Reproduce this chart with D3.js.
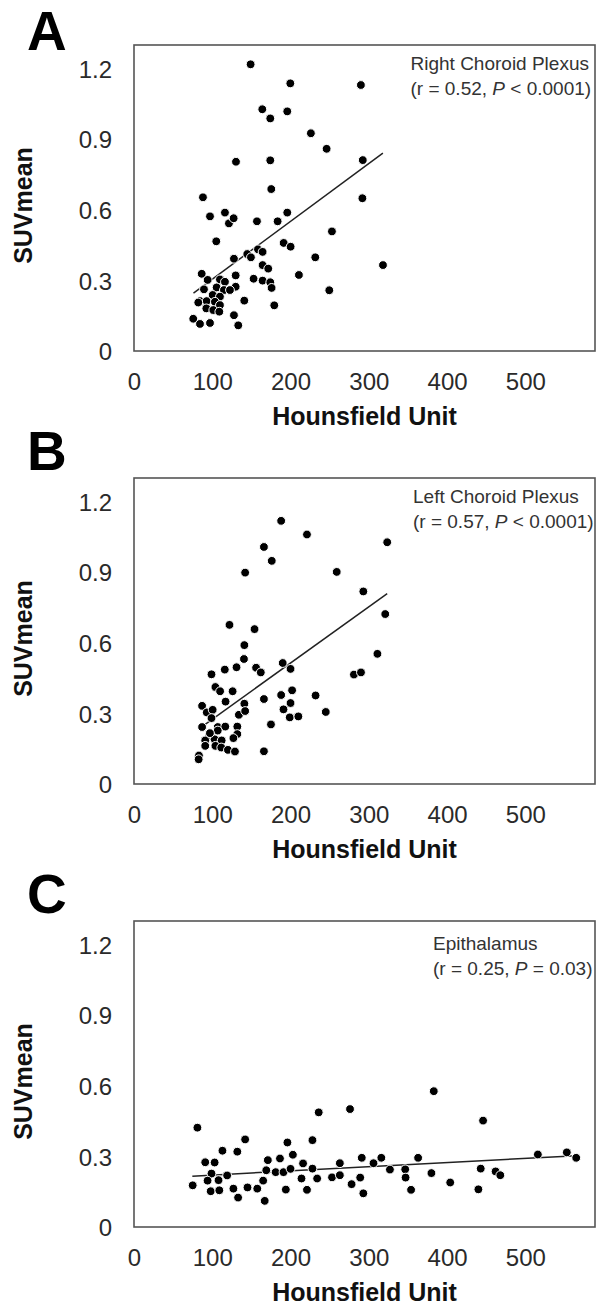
<!DOCTYPE html>
<html>
<head>
<meta charset="utf-8">
<script src="https://cdn.jsdelivr.net/npm/d3@7/dist/d3.min.js"></script>
<style>
  html, body { margin: 0; padding: 0; background: #fff; }
  svg { display: block; }
  text { font-family: "Liberation Sans", Arial, Helvetica, sans-serif; }
</style>
</head>
<body>
<div id="chart"></div>
<script>
// ---------- DATA ----------
const xTicks = [0, 100, 200, 300, 400, 500];
const yTicks = [0, 0.3, 0.6, 0.9, 1.2];
const yTickLabels = ["0", "0.3", "0.6", "0.9", "1.2"];
const panelLetters = ["A", "B", "C"];
const regionNames = ["Right Choroid Plexus", "Left Choroid Plexus", "Epithalamus"];
const statR = ["0.52", "0.57", "0.25"];
const statP = ["< 0.0001", "< 0.0001", "= 0.03"];
const xTitle = "Hounsfield Unit";
const yTitle = "SUVmean";

const huA = [149,199.7,289.9,163.9,195.8,174.1,226,246.1,130.3,174.1,292.3,175.4,88.1,291.8,97.1,116.2,121.3,127.3,157.1,183.5,195.8,252.9,105.1,191.2,200.1,231.6,127.7,144.7,149.4,158.4,164.3,164.3,171.5,318.1,210.7,249.5,86.5,129.9,152.8,164.3,174.1,175.8,129.9,140.9,179.2,127.7,133.2,75.7,84.3,97.1,89.4,94.1,109.8,116.2,105.6,114.9,122.6,100.5,109.8,84.3,92.8,103.4,109.8,92.4,101.3,109,82.1];
const suvA = [1.218,1.137,1.13,1.027,1.018,0.988,0.925,0.859,0.804,0.81,0.811,0.688,0.653,0.649,0.572,0.588,0.542,0.564,0.551,0.551,0.588,0.508,0.466,0.459,0.443,0.398,0.392,0.412,0.398,0.432,0.421,0.365,0.35,0.365,0.323,0.258,0.328,0.321,0.307,0.299,0.292,0.268,0.273,0.214,0.194,0.152,0.109,0.137,0.115,0.119,0.262,0.302,0.304,0.294,0.27,0.259,0.259,0.238,0.231,0.212,0.212,0.209,0.195,0.181,0.174,0.167,0.206];

const huB = [188,221,166,176,142,259,323.5,293,321,311,281,290,122,154,141,140.5,190,200,131,116,99,156,162,104,110,126,117,141,166,188,202,232,245,191,200,199,210,175,166,87,93,100.5,134,142,87,99,107,116.6,132,132,127,96,91,103,112,91,104,111.5,120,129,83,82.6,107,97];
const suvB = [1.118,1.06,1.007,0.948,0.898,0.901,1.027,0.818,0.722,0.553,0.465,0.474,0.676,0.658,0.59,0.531,0.514,0.489,0.496,0.486,0.466,0.494,0.474,0.412,0.394,0.394,0.35,0.341,0.361,0.378,0.398,0.376,0.306,0.317,0.344,0.283,0.287,0.253,0.139,0.332,0.304,0.315,0.294,0.31,0.242,0.28,0.242,0.244,0.244,0.212,0.195,0.202,0.185,0.19,0.185,0.162,0.162,0.155,0.145,0.138,0.121,0.105,0.227,0.216];

const huC = [81,236,276,383,446,142,228,196,113,132,203,91,103,171,186.5,216,263,291,316,306,363,516,553,565,99,119,169,181,191,200,228,214,234,253,263,289,278,293,327,346.5,347,354,380,404,443,440,462,468,75,94,108,98,109,127,145,157.5,165,194,221,133,167];
const suvC = [0.422,0.487,0.501,0.577,0.452,0.372,0.369,0.359,0.324,0.32,0.307,0.275,0.274,0.284,0.291,0.27,0.271,0.294,0.294,0.271,0.294,0.308,0.317,0.294,0.227,0.219,0.241,0.233,0.233,0.247,0.248,0.206,0.206,0.211,0.22,0.21,0.182,0.143,0.244,0.245,0.21,0.158,0.229,0.189,0.248,0.16,0.236,0.22,0.177,0.197,0.199,0.152,0.156,0.163,0.168,0.163,0.197,0.159,0.158,0.125,0.111];

// regression line end points (x, y)
const fitXA = [76, 318],   fitYA = [0.246, 0.841];
const fitXB = [87, 323.5], fitYB = [0.244, 0.809];
const fitXC = [74.5, 566], fitYC = [0.216, 0.303];

const xDomain = [0, 589];
const yDomain = [0, 1.3];

// ---------- LAYOUT ----------
const W = 597, H = 1308;
const plotLeft = 134, plotRight = 595, plotH = 306;
const panels = [
  { top: 45,  letterY: 50,  hu: huA, suv: suvA, fx: fitXA, fy: fitYA, annX: 410.5, annY: 70 },
  { top: 478, letterY: 470, hu: huB, suv: suvB, fx: fitXB, fy: fitYB, annX: 413,   annY: 503 },
  { top: 921, letterY: 913, hu: huC, suv: suvC, fx: fitXC, fy: fitYC, annX: 433,   annY: 950 }
];

const svg = d3.select("#chart").append("svg")
  .attr("width", W).attr("height", H);

const x = d3.scaleLinear().domain(xDomain).range([plotLeft, plotRight]);

panels.forEach((p, i) => {
  const bottom = p.top + plotH;
  const y = d3.scaleLinear().domain(yDomain).range([bottom, p.top]);
  const g = svg.append("g");

  // panel letter
  g.append("text")
    .attr("x", 27).attr("y", p.letterY)
    .attr("font-size", 55).attr("font-weight", "bold").attr("fill", "#000")
    .text(panelLetters[i]);

  // x axis labels
  const xAxis = d3.axisBottom(x).tickValues(xTicks).tickSize(0).tickPadding(0);
  const gx = g.append("g").attr("transform", `translate(0,${bottom})`).call(xAxis);
  gx.select(".domain").remove();
  gx.selectAll("text")
    .attr("y", 38.5).attr("dy", null)
    .attr("font-size", 24).attr("fill", "#2a2a2a")
    .style("font-family", '"Liberation Sans", Arial, sans-serif');

  // y axis labels
  const yAxis = d3.axisLeft(y).tickValues(yTicks).tickSize(0).tickPadding(0)
    .tickFormat((d, k) => yTickLabels[k]);
  const gy = g.append("g").attr("transform", `translate(112,0)`).call(yAxis);
  gy.select(".domain").remove();
  gy.selectAll("text")
    .attr("x", 0).attr("dy", "0.36em")
    .attr("font-size", 24).attr("fill", "#2a2a2a")
    .style("font-family", '"Liberation Sans", Arial, sans-serif');

  // frame
  g.append("rect")
    .attr("x", plotLeft).attr("y", p.top)
    .attr("width", plotRight - plotLeft).attr("height", plotH)
    .attr("fill", "none").attr("stroke", "#555").attr("stroke-width", 1.6);

  // regression line
  g.append("line")
    .attr("x1", x(p.fx[0])).attr("y1", y(p.fy[0]))
    .attr("x2", x(p.fx[1])).attr("y2", y(p.fy[1]))
    .attr("stroke", "#222").attr("stroke-width", 1.5);

  // points
  const pts = p.hu.map((h, k) => ({ h, s: p.suv[k] }));
  g.append("g").selectAll("circle").data(pts).join("circle")
    .attr("cx", d => x(d.h)).attr("cy", d => y(d.s))
    .attr("r", 4.4)
    .attr("fill", "#000").attr("stroke", "#fff").attr("stroke-width", 1);

  // annotation
  g.append("text")
    .attr("x", p.annX).attr("y", p.annY)
    .attr("font-size", 19).attr("fill", "#333")
    .text(regionNames[i]);
  const t2 = g.append("text")
    .attr("x", p.annX).attr("y", p.annY + 24.5)
    .attr("font-size", 19).attr("fill", "#333");
  t2.append("tspan").text(`(r = ${statR[i]}, `);
  t2.append("tspan").attr("font-style", "italic").text("P");
  t2.append("tspan").text(` ${statP[i]})`);

  // axis titles
  g.append("text")
    .attr("x", (plotLeft + plotRight) / 2).attr("y", bottom + 73.5)
    .attr("text-anchor", "middle")
    .attr("font-size", 25).attr("font-weight", "bold").attr("fill", "#111")
    .text(xTitle);
  g.append("text")
    .attr("transform", `translate(32,${p.top + plotH / 2 + 7.5}) rotate(-90)`)
    .attr("text-anchor", "middle")
    .attr("font-size", 25).attr("font-weight", "bold").attr("fill", "#111")
    .text(yTitle);
});
</script>
</body>
</html>
